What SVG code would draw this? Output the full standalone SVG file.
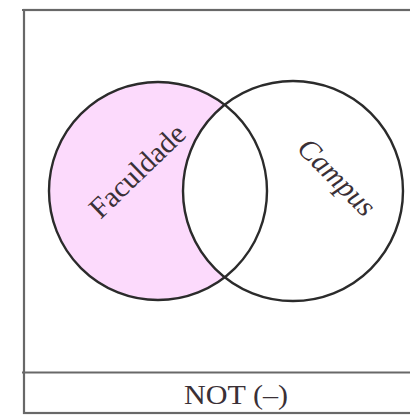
<svg xmlns="http://www.w3.org/2000/svg" width="410" height="415" viewBox="0 0 410 415">
  <style>
    .frame { fill: none; stroke: #686868; stroke-width: 2.2; }
    .set { fill: none; stroke: #2b2b2b; stroke-width: 2.4; }
    .lbl { font-family: "Liberation Serif", "Times New Roman", serif; font-size: 28px; fill: #3a3036; }
    .big { font-size: 29.5px; }
  </style>
  <rect x="0" y="0" width="410" height="415" fill="#ffffff"/>
  <g id="frame">
    <rect x="24" y="10" width="400" height="403" fill="#fdfdf8" class="frame"/>
    <line x1="22" y1="372.5" x2="412" y2="372.5" class="frame"/>
    <line x1="22" y1="10" x2="412" y2="10" class="frame"/>
    <text x="236" y="403.5" text-anchor="middle" class="lbl" fill="#2a2a2a" textLength="104" lengthAdjust="spacingAndGlyphs">NOT (–)</text>
  </g>
  <g id="faculdade">
    <path d="M225,105 A109,109 0 1 0 225,277 A110,110 0 0 1 225,105 Z" fill="#fcdafc"/>
    <circle cx="158" cy="191" r="109" class="set"/>
    <text class="lbl big" text-anchor="middle" transform="translate(144,178) rotate(-44)">Faculdade</text>
  </g>
  <g id="campus">
    <circle cx="293" cy="191" r="110" class="set"/>
    <text class="lbl big" font-style="italic" text-anchor="middle" transform="translate(330,184) rotate(45)">Campus</text>
  </g>
  <g id="connectors"/>
</svg>
